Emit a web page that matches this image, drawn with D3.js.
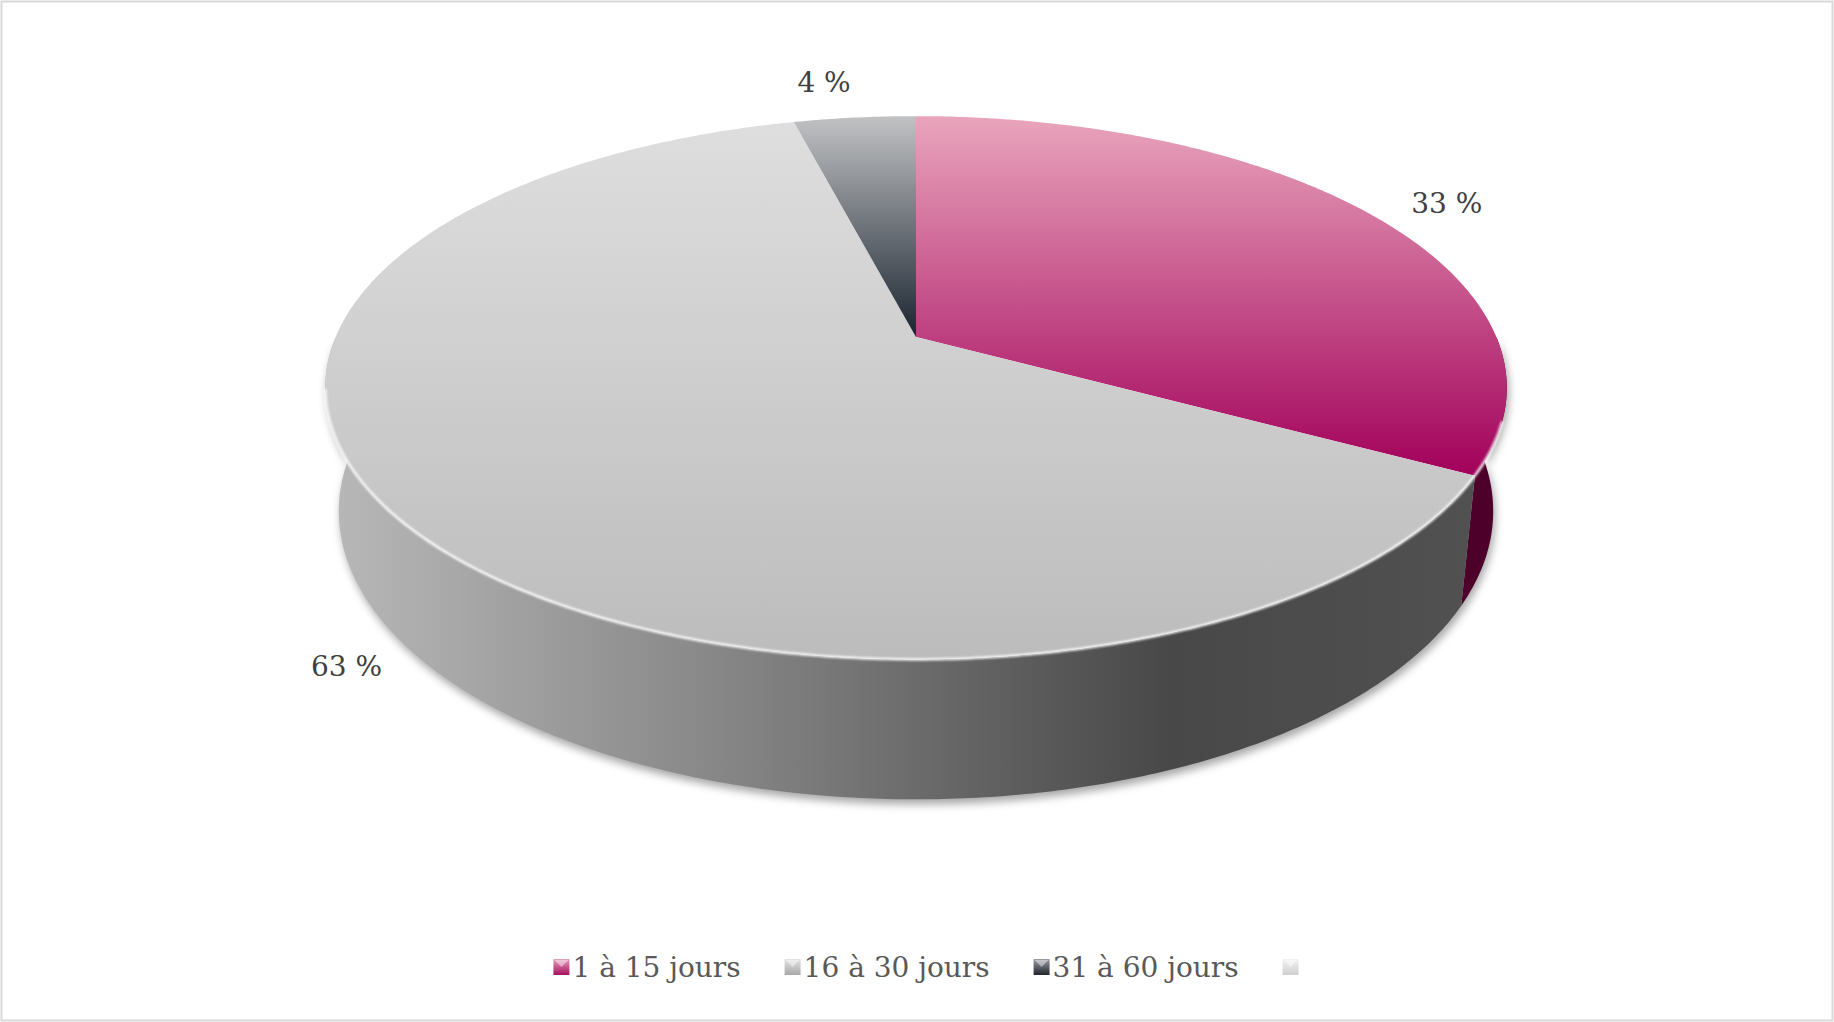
<!DOCTYPE html>
<html>
<head>
<meta charset="utf-8">
<script src="https://cdn.jsdelivr.net/npm/d3@7"></script>
<style>
  html, body { margin: 0; padding: 0; background: #fff; overflow: hidden; }
</style>
</head>
<body>
<svg id="chart" width="1834" height="1022"></svg>
<script>
// data
const categories = ["1 à 15 jours", "16 à 30 jours", "31 à 60 jours", ""];
const values = [33, 63, 4, 0];
const valueLabels = ["33 %", "63 %", "4 %", ""];

// colours per slice: top gradient (light -> dark), legend swatch
const topColors = [["#e9a5bc", "#a2005a"], ["#dedede", "#bcbcbc"], ["#c1c2c4", "#1b2530"], ["#e8e8e8", "#d0d0d0"]];
const legendColors = [["#e6a0bb", "#a3105f"], ["#e4e4e4", "#a8a8a8"], ["#9a9ea3", "#20262c"], ["#f2f2f2", "#cfcfcf"]];
// small hand nudges for the data labels (excel best-fit placement)
const labelNudge = [[13, 5], [-7, -6], [-23, -8], [0, 0]];

const W = 1834, H = 1022;
const svg = d3.select("#chart");

// perspective camera for the tilted disc
const cam = { cx: 916, cy: 337, F: 2770, D: 4.773, cosA: 0.8922, sinA: 0.4517, h: 0.24 };
function proj(a, r, lvl) {            // a = pie angle (0 = top, clockwise), lvl 0 = top face, 1 = bottom
  const x = r * Math.sin(a), z = -r * Math.cos(a), y = -lvl * cam.h;
  const d = cam.D - (y * cam.sinA + z * cam.cosA);
  return [cam.cx + cam.F * x / d, cam.cy - cam.F * (y * cam.cosA - z * cam.sinA) / d];
}
function arcPts(a0, a1, lvl) {
  const n = Math.max(2, Math.ceil(Math.abs(a1 - a0) / 0.01));
  return d3.range(n + 1).map(i => proj(a0 + (a1 - a0) * i / n, 1, lvl));
}
const line = d3.line();

const pie = d3.pie().sort(null).value(d => d)(values);

const defs = svg.append("defs");

// background + chart border
svg.append("rect").attr("x", 0).attr("y", 0).attr("width", W).attr("height", H).attr("fill", "#fff");
svg.append("rect").attr("x", 1.5).attr("y", 1.5).attr("width", W - 3).attr("height", H - 3)
  .attr("fill", "none").attr("stroke", "#d9d9d9").attr("stroke-width", 2);

// filters
defs.append("filter").attr("id", "shadow").attr("x", "-10%").attr("y", "-10%").attr("width", "120%").attr("height", "130%")
  .append("feGaussianBlur").attr("stdDeviation", 4);
defs.append("filter").attr("id", "soft")
  .append("feGaussianBlur").attr("stdDeviation", 0.8);

// soft shadow under the pie
const lo = Math.PI / 2, hi = Math.PI * 3 / 2;
const shadowPts = arcPts(lo, hi, 0).concat(arcPts(hi, lo, 1));
svg.append("path")
  .attr("d", line(shadowPts) + "Z")
  .attr("transform", "translate(2,5)")
  .attr("fill", "rgba(0,0,0,0.35)")
  .attr("filter", "url(#shadow)");

// side walls
const wallGrad = defs.append("linearGradient").attr("id", "wall1")
  .attr("gradientUnits", "userSpaceOnUse").attr("x1", 330).attr("y1", 0).attr("x2", 1480).attr("y2", 0);
wallGrad.append("stop").attr("offset", 0).attr("stop-color", "#b8b8b8");
wallGrad.append("stop").attr("offset", 0.35).attr("stop-color", "#858585");
wallGrad.append("stop").attr("offset", 0.73).attr("stop-color", "#484848");
wallGrad.append("stop").attr("offset", 1).attr("stop-color", "#515151");

const wallFills = ["#4d0029", "url(#wall1)", "#2a3038", "#cccccc"];

svg.append("g").selectAll("path")
  .data(pie.filter(d => Math.min(d.endAngle, hi) > Math.max(d.startAngle, lo)))
  .join("path")
  .attr("d", d => {
    const a0 = Math.max(d.startAngle, lo), a1 = Math.min(d.endAngle, hi);
    return line(arcPts(a0, a1, 0).concat(arcPts(a1, a0, 1))) + "Z";
  })
  .attr("fill", d => wallFills[d.index]);

// top faces
pie.forEach(d => {
  const g = defs.append("linearGradient").attr("id", "top" + d.index)
    .attr("x1", 0).attr("y1", 0).attr("x2", 0).attr("y2", 1);
  g.append("stop").attr("offset", 0).attr("stop-color", topColors[d.index][0]);
  g.append("stop").attr("offset", 1).attr("stop-color", topColors[d.index][1]);
});

svg.append("g").selectAll("path")
  .data(pie.filter(d => d.endAngle > d.startAngle))
  .join("path")
  .attr("d", d => line([[cam.cx, cam.cy]].concat(arcPts(d.startAngle, d.endAngle, 0))) + "Z")
  .attr("fill", d => "url(#top" + d.index + ")");

// bevel highlight on the front rim
svg.append("path")
  .attr("d", line(arcPts(1.88, 4.52, 0)))
  .attr("fill", "none")
  .attr("stroke", "#ffffff")
  .attr("stroke-width", 2.5)
  .attr("stroke-opacity", 0.9)
  .attr("filter", "url(#soft)");

// data labels
function labelPos(d) {
  const m = (d.startAngle + d.endAngle) / 2;
  const front = -Math.cos(m) > 0;
  const p = proj(m, front ? 1.1 : 1.15, front ? 1 : 0);
  return [p[0] + labelNudge[d.index][0], p[1] + labelNudge[d.index][1]];
}
svg.append("g").selectAll("text")
  .data(pie.filter(d => d.value > 0))
  .join("text")
  .attr("x", d => labelPos(d)[0])
  .attr("y", d => labelPos(d)[1])
  .attr("text-anchor", "middle")
  .attr("dominant-baseline", "central")
  .attr("font-family", "'DejaVu Serif', 'Liberation Serif', serif")
  .attr("font-size", 28)
  .attr("fill", "#404040")
  .text(d => valueLabels[d.index]);

// legend
const legend = svg.append("g");
const items = legend.selectAll("g").data(categories).join("g");
categories.forEach((c, i) => {
  const g = defs.append("linearGradient").attr("id", "leg" + i)
    .attr("x1", 0).attr("y1", 0).attr("x2", 0).attr("y2", 1);
  g.append("stop").attr("offset", 0).attr("stop-color", legendColors[i][0]);
  g.append("stop").attr("offset", 1).attr("stop-color", legendColors[i][1]);
});
items.append("rect")
  .attr("x", 0).attr("y", -8).attr("width", 16).attr("height", 16)
  .attr("fill", (d, i) => "url(#leg" + i + ")");
items.append("path")
  .attr("d", "M1,-7 L15,-7 L8,0 Z")
  .attr("fill", "#ffffff").attr("fill-opacity", 0.45);
items.append("text")
  .attr("x", 19).attr("y", 0)
  .attr("dominant-baseline", "central")
  .attr("font-family", "'DejaVu Serif', 'Liberation Serif', serif")
  .attr("font-size", 28)
  .attr("fill", "#595959")
  .text(d => d);

let xpos = 0;
const offsets = [];
items.each(function (d) {
  offsets.push(xpos);
  const tw = d ? d3.select(this).select("text").node().getComputedTextLength() : 0;
  xpos += d ? 19 + tw + 44 : 16;
});
const legendX = 926 - xpos / 2;
items.attr("transform", (d, i) => `translate(${legendX + offsets[i]},967)`);
</script>
</body>
</html>
